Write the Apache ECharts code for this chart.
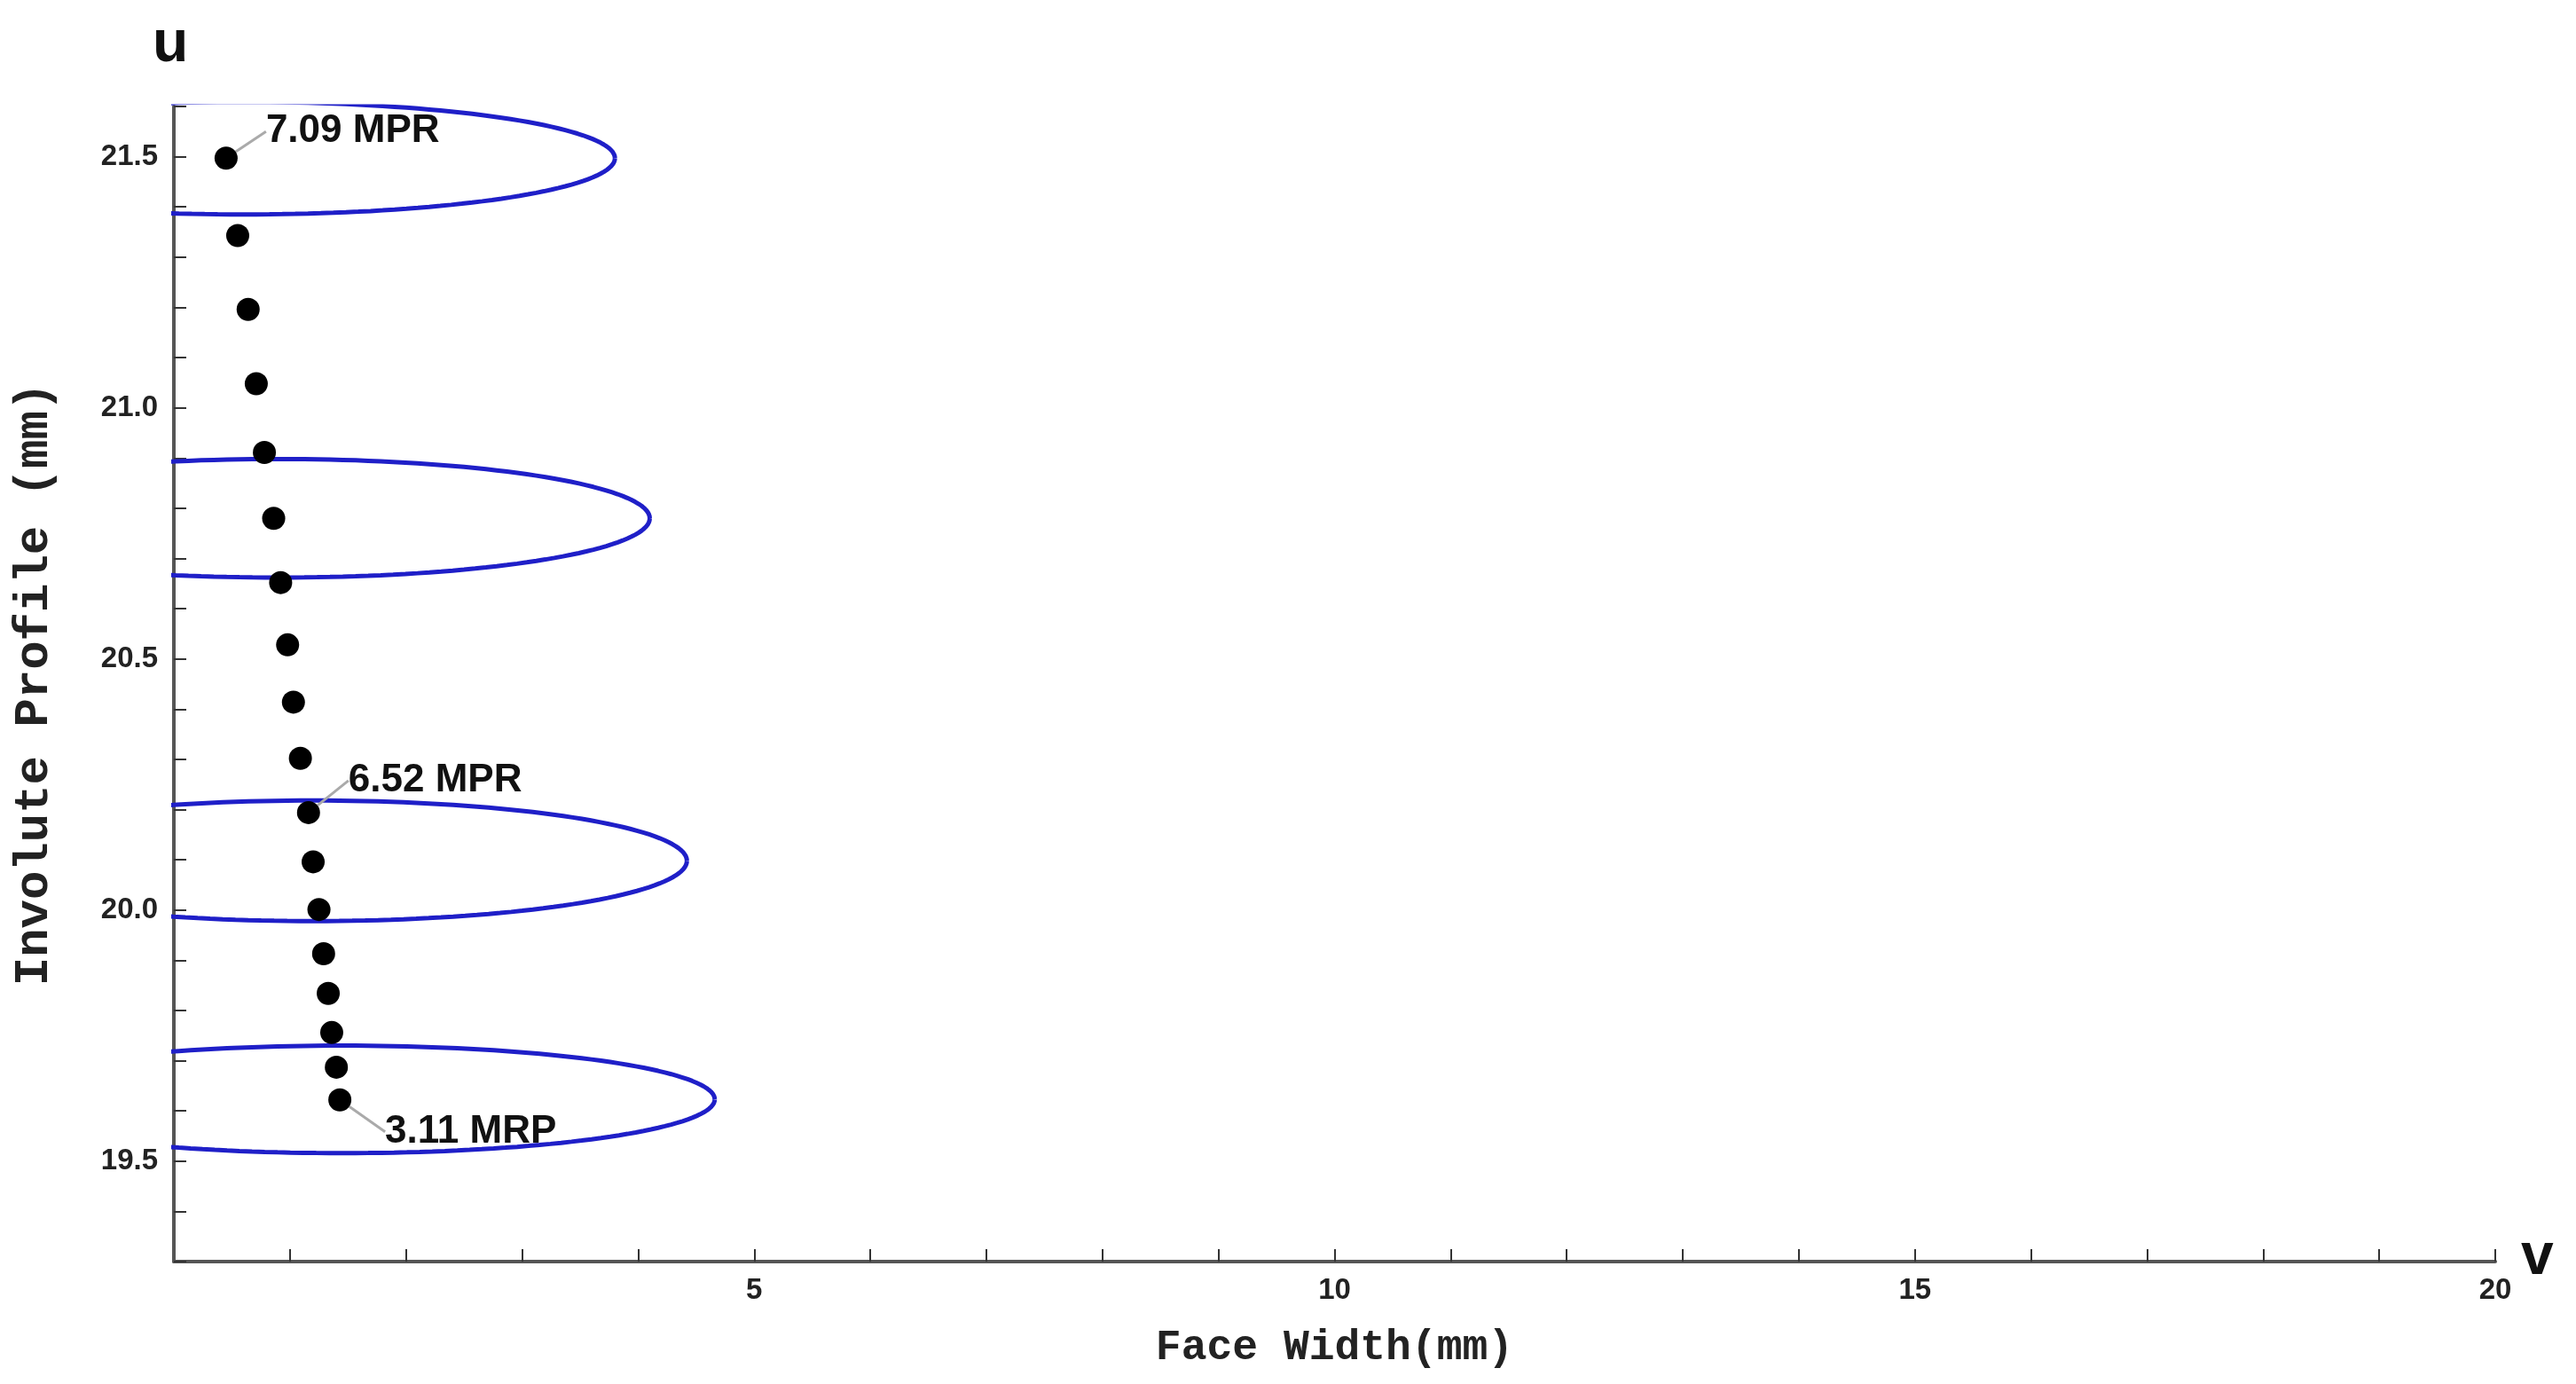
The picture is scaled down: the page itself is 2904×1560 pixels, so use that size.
<!DOCTYPE html>
<html><head><meta charset="utf-8">
<script src="https://cdn.jsdelivr.net/npm/echarts@6/dist/echarts.min.js"></script>
<style>html,body{margin:0;padding:0;background:#fff}#c{width:2904px;height:1560px}</style>
</head><body><div id="c"></div>
<script>
// Contact points (v = face width, u = involute profile)
const pointV = [0.45,0.55,0.64,0.71,0.78,0.86,0.92,0.98,1.03,1.09,1.16,1.20,1.25,1.29,1.33,1.36,1.40,1.43];
const pointU = [21.497,21.343,21.196,21.048,20.911,20.780,20.652,20.528,20.414,20.302,20.194,20.096,20.001,19.913,19.834,19.756,19.687,19.622];
// Labelled points: index and text
const labelIndex = [0, 10, 17];
const labelText = ['7.09 MPR', '6.52 MPR', '3.11 MRP'];
// Contact ellipses: centre v, centre u, semi-axis v, semi-axis u
const ellCenterV = [0.6, 0.9, 1.2, 1.45];
const ellCenterU = [21.497, 20.78, 20.098, 19.623];
const ellSemiV = [3.2, 3.2, 3.22, 3.21];
const ellSemiU = [0.112, 0.118, 0.12, 0.107];
const xTickLabels = [5, 10, 15, 20];
const yTickLabels = [19.5, 20.0, 20.5, 21.0, 21.5];

const labelDx = [22, 22, 28], labelDy = [-30, -36, 36];
const scatterData = pointV.map((v,i)=>{
  const k = labelIndex.indexOf(i);
  const d = {value:[v, pointU[i]]};
  if (k >= 0) {
    d.label = {show:true, formatter:labelText[k], position:'right', distance:10};
  }
  return d;
});

const ellipseSeries = ellCenterV.map((cv,i)=>{
  const pts = [];
  for (let t=0;t<=360;t+=2){
    const r=t*Math.PI/180;
    pts.push([cv+ellSemiV[i]*Math.cos(r), ellCenterU[i]+ellSemiU[i]*Math.sin(r)]);
  }
  return {type:'line', data:pts, showSymbol:false, clip:true, silent:true,
    lineStyle:{color:'#1f1fc8', width:5}, z:2};
});

const axisColor = '#555';
const chart = echarts.init(document.getElementById('c'));
chart.setOption({
  animation:false,
  grid:{left:196, right:91, top:120, bottom:138},
  xAxis:{type:'value', min:0, max:20, interval:1,
    axisLine:{show:true, lineStyle:{color:axisColor, width:4}},
    axisTick:{show:true, inside:true, length:14, lineStyle:{color:'#333', width:2}},
    axisLabel:{margin:16, fontFamily:'Liberation Sans', fontWeight:'bold', fontSize:33, color:'#222',
      formatter:v=> xTickLabels.includes(v) ? String(v) : '', showMinLabel:false},
    splitLine:{show:false},
    name:'Face Width(mm)', nameLocation:'middle', nameGap:74,
    nameTextStyle:{fontFamily:'Liberation Mono', fontWeight:'bold', fontSize:48, color:'#222'}
  },
  yAxis:{type:'value', min:19.3, max:21.6, interval:0.1,
    axisLine:{show:true, lineStyle:{color:axisColor, width:4}},
    axisTick:{show:true, inside:true, length:14, lineStyle:{color:'#333', width:2}},
    axisLabel:{margin:18, fontFamily:'Liberation Sans', fontWeight:'bold', fontSize:33, color:'#222',
      formatter:v=>{const r=Math.round(v*10)/10; return yTickLabels.some(t=>Math.abs(t-r)<1e-6)? r.toFixed(1):'';}},
    splitLine:{show:false},
    name:'Involute Profile (mm)', nameLocation:'middle', nameGap:130,
    nameTextStyle:{fontFamily:'Liberation Mono', fontWeight:'bold', fontSize:54, color:'#222'}
  },
  series:[...ellipseSeries, {
    type:'scatter', data:scatterData, symbolSize:26, z:3,
    itemStyle:{color:'#000', opacity:1},
    label:{show:false, fontFamily:'Liberation Sans', fontWeight:'bold', fontSize:44, color:'#111'},
    labelLayout:p=>{const k=labelIndex.indexOf(p.dataIndex); return k>=0?{dx:labelDx[k], dy:labelDy[k]}:{};},
    labelLine:{show:true, length2:0, smooth:0.5, lineStyle:{color:'#aaa', width:3}}
  }],
  graphic:[
    {type:'text', left:172, top:18, style:{text:'u', font:'bold 66px Liberation Sans', fill:'#111'}},
    {type:'text', left:2842, top:1385, style:{text:'v', font:'bold 66px Liberation Sans', fill:'#111'}}
  ]
});
</script></body></html>
